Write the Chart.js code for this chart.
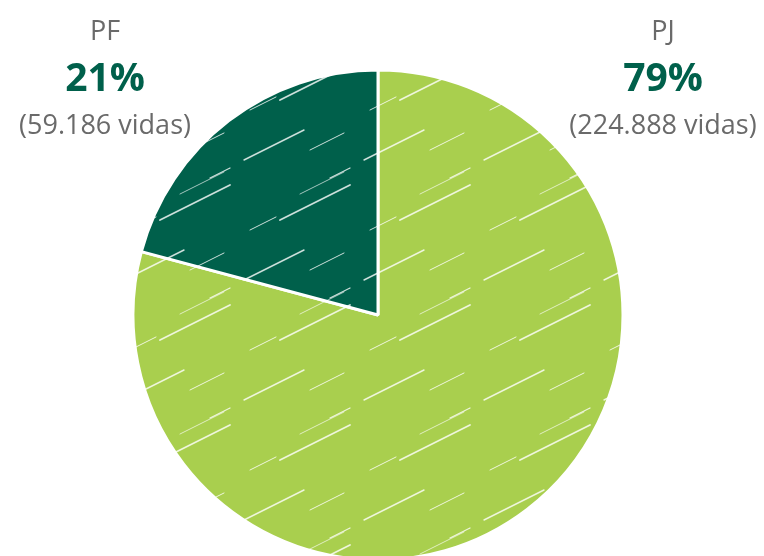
<!DOCTYPE html>
<html>
<head>
<meta charset="utf-8">
<script src="https://cdn.jsdelivr.net/npm/chart.js@4"></script>
<style>
  html, body { margin: 0; padding: 0; background: #fff; }
  #wrap { width: 764px; height: 556px; }
</style>
</head>
<body>
<div id="wrap"><canvas id="pieChart" width="764" height="556"></canvas></div>
<script>
// data
const categories = ['PJ', 'PF'];
const vidas = [224888, 59186];
const sliceColors = ['#a9cf4e', '#00604b'];

// percent labels are rounded from the vidas
const total = vidas.reduce((a, b) => a + b, 0);
const percents = vidas.map(v => Math.round(v / total * 100));
const fmt = n => n.toLocaleString('pt-BR');

// sketchy fill, a colour with some pale strokes on it
function sketchPattern (color) {
  const size = 120;
  const c = document.createElement('canvas');
  c.width = size;
  c.height = size;
  const g = c.getContext('2d');
  g.fillStyle = color;
  g.fillRect(0, 0, size, size);
  g.strokeStyle = 'rgba(255,255,255,0.8)';
  g.lineCap = 'round';
  // streaks: start x, start y, length, width
  const streaks = [
    [4, 40, 60, 1.4],
    [40, 100, 70, 1.8],
    [70, 30, 34, 1],
    [10, 110, 26, 1],
    [60, 74, 44, 0.8],
    [90, 58, 20, 1.2],
  ];
  streaks.forEach(([x, y, len, w]) => {
    g.lineWidth = w;
    for (let ox = -size; ox <= size; ox += size) {
      for (let oy = -size; oy <= size; oy += size) {
        g.beginPath();
        g.moveTo(x + ox, y + oy);
        g.lineTo(x + ox + len, y + oy - len * 0.5);
        g.stroke();
      }
    }
  });
  return g.createPattern(c, 'repeat');
}

const labelPlugin = {
  id: 'topLabels',
  afterDraw (chart) {
    const ctx = chart.ctx;
    const spots = { PF: 105, PJ: 663 };
    ctx.save();
    ctx.textAlign = 'center';
    ctx.textBaseline = 'middle';
    categories.forEach((cat, i) => {
      const x = spots[cat];
      ctx.fillStyle = '#6a6a6a';
      ctx.font = '27px "Open Sans", sans-serif';
      ctx.fillText(cat, x, 32);
      ctx.fillStyle = '#00604b';
      ctx.font = 'bold 39px "Open Sans", sans-serif';
      ctx.fillText(percents[i] + '%', x, 80);
      ctx.fillStyle = '#6a6a6a';
      ctx.font = '27px "Open Sans", sans-serif';
      ctx.fillText('(' + fmt(vidas[i]) + ' vidas)', x, 126);
    });
    ctx.restore();
  }
};

const ctx = document.getElementById('pieChart').getContext('2d');
new Chart(ctx, {
  type: 'pie',
  data: {
    labels: categories,
    datasets: [{
      data: vidas,
      backgroundColor: sliceColors.map(sketchPattern),
      borderColor: '#ffffff',
      borderWidth: 3,
    }]
  },
  options: {
    responsive: false,
    animation: false,
    radius: 245,
    layout: { padding: { left: 0, right: 8, top: 74, bottom: 0 } },
    plugins: {
      legend: { display: false },
      tooltip: { enabled: false },
    }
  },
  plugins: [labelPlugin]
});
</script>
</body>
</html>
